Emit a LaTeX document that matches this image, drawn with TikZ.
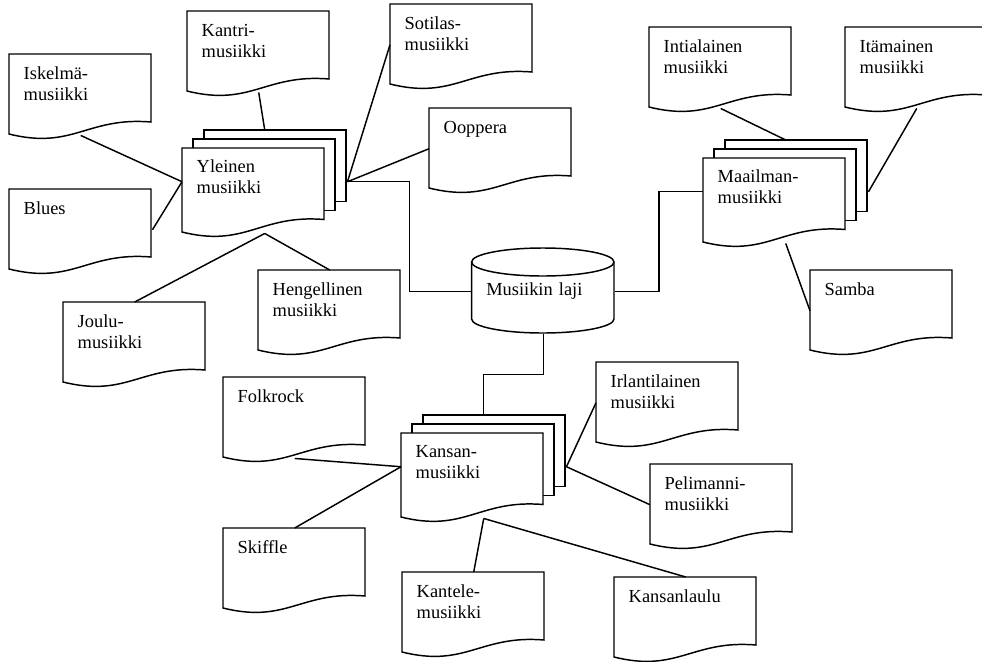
\documentclass[tikz,border=0pt]{standalone}
\usepackage{fontspec}
\setmainfont{Liberation Serif}
\usetikzlibrary{calc}

% document page: name, left, top, text
\def\doku#1#2#3#4{
	\draw[fill=white] (#2,#3) -- ({#2+142},#3) -- ({#2+142},{#3+68})
		.. controls ({#2+78},{#3+62.7}) and ({#2+64},{#3+96}) .. (#2,{#3+80}) -- cycle;
	\node[doku] (#1) at (#2,#3) {#4};
}
% stack of pages
\def\pino#1#2#3#4{
	\draw[fill=white] ({#2+22},#3) rectangle ({#2+164},{#3+71.5});
	\draw[fill=white] ({#2+11},{#3+9}) rectangle ({#2+153},{#3+80.5});
	\draw[fill=white] (#2,{#3+18}) -- ({#2+142},{#3+18}) -- ({#2+142},{#3+89.5})
		.. controls ({#2+78},{#3+84.2}) and ({#2+64},{#3+118}) .. (#2,{#3+102}) -- cycle;
	\node[pino] (#1) at (#2,#3) {#4};
}

\begin{document}
\begin{tikzpicture}[x=0.75pt,y=-0.75pt,line width=1.1pt,
	font=\fontsize{13.8pt}{15.2pt}\selectfont,
	doku/.style={anchor=north west,inner xsep=10.5pt,inner ysep=0pt,text width=85.5pt,
		align=left,text height=18.75pt,text depth=41.25pt},
	pino/.style={doku,text width=102pt,text height=31.5pt,text depth=45pt},
	lajibox/.style={doku,text height=35.25pt,text depth=28.5pt}]
\useasboundingbox (0,0) rectangle (982,661);
\clip (0,0) rectangle (982,661);

% cylinder
\draw[fill=white] (471.6,262) -- (471.6,319)
	arc[start angle=180,end angle=360,x radius=53.4pt,y radius=10.5pt] -- (614,262);
\draw (542.8,262) ellipse [x radius=53.4pt,y radius=10.5pt];
\node[lajibox] (laji) at (471.6,248) {Musiikin laji};

\pino{yl}{182}{130}{Yleinen\\musiikki}
\pino{maa}{703}{140}{Maailman-\\musiikki}
\pino{kansan}{401}{415}{Kansan-\\musiikki}

\doku{kantri}{187}{11}{Kantri-\\musiikki}
\doku{isk}{9}{54}{Iskelmä-\\musiikki}
\doku{blues}{9}{189}{Blues}
\doku{sotilas}{390}{4}{Sotilas-\\musiikki}
\doku{ooppera}{429}{108}{Ooppera}
\doku{heng}{258}{270}{Hengellinen\\musiikki}
\doku{joulu}{63}{302}{Joulu-\\musiikki}

\doku{intia}{649}{27}{Intialainen\\musiikki}
\doku{itam}{845}{27}{Itämainen\\musiikki}
\doku{samba}{810}{270}{Samba}

\doku{folk}{223}{377}{Folkrock}
\doku{skiffle}{223}{528}{Skiffle}
\doku{irl}{596}{362}{Irlantilainen\\musiikki}
\doku{peli}{650}{464}{Pelimanni-\\musiikki}
\doku{kantele}{402}{572}{Kantele-\\musiikki}
\doku{laulu}{614}{577}{Kansanlaulu}

% links
\draw (yl.east) -| ($(yl.east)!.5!(laji.west)$) |- (laji.west);
\draw (laji.east) -| ($(laji.east)!.5!(maa.west)$) |- (maa.west);
\draw (laji.south) |- ($(laji.south)!.5!(kansan.north)$) -| (kansan.north);

\draw (isk.south) -- (yl.west);
\draw (blues.east) -- (yl.west);
\draw (kantri.south) -- (yl.north);
\draw (yl.east) -- (sotilas.west);
\draw (yl.east) -- (ooppera.west);
\draw (yl.south) -- (joulu.north);
\draw (yl.south) -- (heng.north);

\draw (intia.south) -- (maa.north);
\draw (itam.south) -- (maa.east);
\draw (maa.south) -- (samba.west);

\draw (folk.south) -- (kansan.west);
\draw (skiffle.north) -- (kansan.west);
\draw (irl.west) -- (kansan.east);
\draw (kansan.east) -- (peli.west);
\draw (kansan.south) -- (kantele.north);
\draw (kansan.south) -- (laulu.north);
\end{tikzpicture}
\end{document}
